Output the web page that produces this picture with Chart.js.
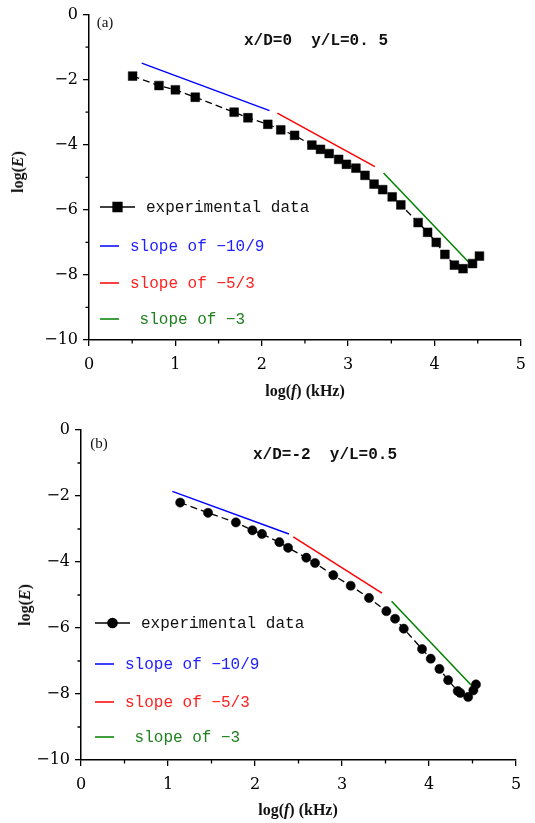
<!DOCTYPE html>
<html>
<head>
<meta charset="utf-8">
<script src="https://cdn.jsdelivr.net/npm/chart.js@4.4.0/dist/chart.umd.min.js"></script>
<style>
  body { margin: 0; background: #fff; }
  #wrap { position: relative; width: 535px; height: 823px; overflow: hidden; }
  canvas { position: absolute; left: 0; }
  .t { position: absolute; white-space: pre; transform: translate(-50%, -50%); color: #111; }
  .serif { font-family: "Liberation Serif", serif; }
  .mono { font-family: "Liberation Mono", monospace; font-weight: bold; font-size: 16px; }
  .axt { font-family: "Liberation Serif", serif; font-weight: bold; font-size: 16px; }
  .rot { transform: translate(-50%, -50%) rotate(-90deg); }
</style>
</head>
<body>
<div id="wrap">
  <canvas id="chartA" style="top:0px"></canvas>
  <canvas id="chartB" style="top:415px"></canvas>

  <div class="t serif" style="left:105px;top:22px;font-size:15px">(a)</div>
  <div class="t mono" style="left:316px;top:41px">x/D=0  y/L=0. 5</div>
  <div class="t axt rot" style="left:18px;top:172px">log(<i>E</i>)</div>
  <div class="t axt" style="left:305px;top:391px">log(<i>f</i>) (kHz)</div>

  <div class="t serif" style="left:99px;top:443px;font-size:15px">(b)</div>
  <div class="t mono" style="left:325px;top:455px">x/D=-2  y/L=0.5</div>
  <div class="t axt rot" style="left:25px;top:605px">log(<i>E</i>)</div>
  <div class="t axt" style="left:298px;top:810px">log(<i>f</i>) (kHz)</div>
</div>
<script>
// ---- panel (a): x/D=0, y/L=0.5 ----
var aExpX = [0.505, 0.81, 1.0, 1.23, 1.68, 1.84, 2.07, 2.22, 2.38, 2.58, 2.68, 2.78, 2.89, 2.98,
             3.09, 3.195, 3.30, 3.40, 3.51, 3.61, 3.81, 3.92, 4.02, 4.12, 4.23, 4.33, 4.44, 4.52];
var aExpY = [-1.89, -2.18, -2.31, -2.54, -3.0, -3.17, -3.37, -3.54, -3.71, -4.01, -4.14, -4.27, -4.45, -4.6,
             -4.72, -4.94, -5.21, -5.38, -5.6, -5.85, -6.39, -6.69, -7.0, -7.37, -7.7, -7.81, -7.65, -7.42];
var aBlueX = [0.61, 2.09],  aBlueY = [-1.49, -2.95];
var aRedX = [2.18, 3.31],   aRedY = [-3.03, -4.67];
var aGreenX = [3.41, 4.41], aGreenY = [-4.87, -7.65];

// ---- panel (b): x/D=-2, y/L=0.5 ----
var bExpX = [1.14, 1.46, 1.78, 1.97, 2.08, 2.28, 2.38, 2.59, 2.69, 2.90, 3.10, 3.31,
             3.51, 3.61, 3.71, 3.92, 4.02, 4.12, 4.22, 4.33, 4.36, 4.45, 4.51, 4.54];
var bExpY = [-2.2, -2.51, -2.80, -3.04, -3.15, -3.40, -3.57, -3.87, -4.03, -4.40, -4.72, -5.09,
             -5.49, -5.72, -6.02, -6.64, -6.93, -7.24, -7.58, -7.91, -7.97, -8.09, -7.89, -7.71];
var bBlueX = [1.05, 2.39],  bBlueY = [-1.86, -3.15];
var bRedX = [2.44, 3.46],   bRedY = [-3.24, -4.94];
var bGreenX = [3.57, 4.50], bGreenY = [-5.19, -7.77];

var labels = ['experimental data', 'slope of \u221210/9', 'slope of \u22125/3', ' slope of \u22123'];
var lineColors = ['#000000', '#0000ff', '#ff0000', '#008000'];
var textColors = ['#111111', '#2020ff', '#ff2020', '#208020'];

var xTicks = [0, 1, 2, 3, 4, 5];
var yTicks = [0, -2, -4, -6, -8, -10];

function zip(xs, ys) {
  var out = [];
  for (var i = 0; i < xs.length; i++) out.push({x: xs[i], y: ys[i]});
  return out;
}

// short minor ticks between the labelled ones
var minorTicks = {
  id: 'minorTicks',
  afterDraw: function(chart) {
    var ctx = chart.ctx, xs = chart.scales.x, ys = chart.scales.y;
    ctx.save();
    ctx.strokeStyle = '#000';
    ctx.lineWidth = 1.3;
    ctx.beginPath();
    for (var v = 0.5; v < 5; v += 1) {
      var px = xs.getPixelForValue(v);
      ctx.moveTo(px, ys.bottom);
      ctx.lineTo(px, ys.bottom + 3.5);
    }
    for (var w = -1; w > -10; w -= 2) {
      var py = ys.getPixelForValue(w);
      ctx.moveTo(xs.left, py);
      ctx.lineTo(xs.left - 3.5, py);
    }
    ctx.stroke();
    ctx.restore();
  }
};

// legend drawn inside the plot, one row per dataset
var innerLegend = {
  id: 'innerLegend',
  afterDraw: function(chart, args, opts) {
    var ctx = chart.ctx;
    ctx.save();
    ctx.font = '16px "Liberation Mono", monospace';
    ctx.textBaseline = 'middle';
    chart.data.datasets.forEach(function(ds, i) {
      var y = opts.rows[i];
      var len = i === 0 ? opts.expLen : opts.lineLen;
      ctx.strokeStyle = ds.borderColor;
      ctx.lineWidth = 1.5;
      ctx.beginPath();
      ctx.moveTo(opts.x, y);
      ctx.lineTo(opts.x + len, y);
      ctx.stroke();
      if (i === 0) {
        Chart.helpers.drawPoint(ctx, {pointStyle: ds.pointStyle, radius: ds.pointRadius, borderWidth: 0.5},
                                opts.x + len / 2, y);
        ctx.fillStyle = '#000';
        ctx.fill();
      }
      ctx.fillStyle = textColors[i];
      ctx.fillText(ds.label, opts.x + len + 11, y + 1);
    });
    ctx.restore();
  }
};

function makeChart(id, w, h, p) {
  var cv = document.getElementById(id);
  cv.width = w; cv.height = h;
  cv.style.width = w + 'px'; cv.style.height = h + 'px';
  var sets = [
    { label: labels[0], data: zip(p.expX, p.expY), showLine: true,
      borderColor: lineColors[0], borderWidth: 1.3, borderDash: [7, 4],
      pointStyle: p.marker, pointRadius: p.radius, pointBackgroundColor: '#000',
      pointBorderColor: '#000', pointBorderWidth: 0.5 },
    { label: labels[1], data: zip(p.blueX, p.blueY), showLine: true,
      borderColor: lineColors[1], borderWidth: 1.5, pointRadius: 0 },
    { label: labels[2], data: zip(p.redX, p.redY), showLine: true,
      borderColor: lineColors[2], borderWidth: 1.5, pointRadius: 0 },
    { label: labels[3], data: zip(p.greenX, p.greenY), showLine: true,
      borderColor: lineColors[3], borderWidth: 1.5, pointRadius: 0 }
  ];
  return new Chart(cv, {
    type: 'scatter',
    data: { datasets: sets },
    options: {
      responsive: false,
      animation: false,
      layout: { padding: { left: 0, right: p.padR, top: p.padT, bottom: 0 } },
      plugins: {
        legend: { display: false },
        tooltip: { enabled: false },
        innerLegend: p.legend
      },
      scales: {
        x: {
          type: 'linear', min: 0, max: 5,
          afterBuildTicks: function(s) { s.ticks = xTicks.map(function(v) { return {value: v}; }); },
          ticks: { color: '#000', padding: 9, maxRotation: 0,
                   font: { family: '"DejaVu Serif", serif', size: 16 } },
          grid: { drawOnChartArea: false, drawTicks: true, tickLength: 6, color: '#000', lineWidth: 1.3 },
          border: { color: '#000', width: 1.5 },
          afterFit: function(s) { s.height = p.xH; }
        },
        y: {
          type: 'linear', min: -10, max: 0,
          afterBuildTicks: function(s) { s.ticks = yTicks.map(function(v) { return {value: v}; }); },
          ticks: { color: '#000', padding: 5,
                   callback: function(v) { return v < 0 ? '\u2212' + Math.abs(v) : String(v); },
                   font: { family: '"DejaVu Serif", serif', size: 16 } },
          grid: { drawOnChartArea: false, drawTicks: true, tickLength: 6, color: '#000', lineWidth: 1.3 },
          border: { color: '#000', width: 1.5 },
          afterFit: function(s) { s.width = p.yW; }
        }
      }
    },
    plugins: [minorTicks, innerLegend]
  });
}

makeChart('chartA', 535, 415, {
  expX: aExpX, expY: aExpY, blueX: aBlueX, blueY: aBlueY,
  redX: aRedX, redY: aRedY, greenX: aGreenX, greenY: aGreenY,
  marker: 'rect', radius: 6.2,
  padR: 14, padT: 10, yW: 89, xH: 75,
  legend: { x: 100, expLen: 35, lineLen: 19, rows: [207, 246, 283, 319] }
});

makeChart('chartB', 535, 408, {
  expX: bExpX, expY: bExpY, blueX: bBlueX, blueY: bBlueY,
  redX: bRedX, redY: bRedY, greenX: bGreenX, greenY: bGreenY,
  marker: 'circle', radius: 4.6,
  padR: 19, padT: 15, yW: 81, xH: 63,
  legend: { x: 95, expLen: 35, lineLen: 19, rows: [208, 249, 287, 322] }
});
</script>
</body>
</html>
